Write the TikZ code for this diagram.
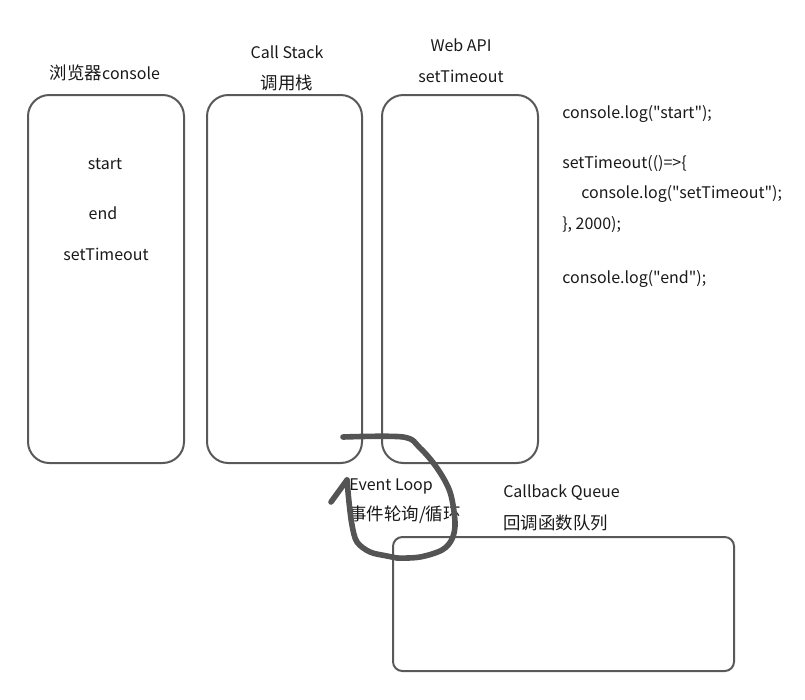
\documentclass[tikz,border=0pt]{standalone}
\usepackage{fontspec}
\setmainfont{Noto Sans CJK SC}[Ligatures=TeXOff]
\newfontfamily\cjk{Noto Sans CJK SC}[Scale=1.09]
\usepackage{tikz}
\usetikzlibrary{positioning}

\tikzset{
  panel/.style={draw=black!65, line width=1.5pt, rounded corners=16pt},
  queue/.style={draw=black!65, line width=1.5pt, rounded corners=7pt},
  lbl/.style={inner sep=0pt, font=\fontsize{12}{14}\selectfont, text=black!90},
  code/.style={lbl, anchor=west},
  loopline/.style={draw=black!67, line width=4.2pt, line cap=round, line join=round}
}

\begin{document}
\begin{tikzpicture}[x=0.75pt,y=-0.75pt]
		\useasboundingbox (0,0) rectangle (805,699);

		% the three columns
		\draw[panel] (28,95) rectangle (184,463);
		\draw[panel] (207,95) rectangle (362,463);
		\draw[panel] (382,95) rectangle (538,463);
		\draw[queue] (393,537) rectangle (734,671);

		% titles
		\node[lbl] (console) at (105,73) {{\cjk 浏览器}console};
		\node[lbl] (stack) at (287,52) {Call Stack};
		\node[lbl] (stackcn) at (287,83) {\cjk 调用栈};
		\node[lbl] (webapi) at (461,45) {Web API};
		\node[lbl] (timer) at (461,76) {setTimeout};

		% console output
		\node[lbl] (out1) at (105,164) {start};
		\node[lbl] (out2) at (103,213) {end};
		\node[lbl] (out3) at (106,254) {setTimeout};

		% the code
		\node[code] (c1) at (562,114) {console.log("start");};
		\node[code] (c2) at (562,164) {setTimeout(()=>\{};
		\node[code] (c3) at (581,194) {console.log("setTimeout");};
		\node[code] (c4) at (562,225) {\}, 2000);};
		\node[code] (c5) at (562,279) {console.log("end");};

		% event loop and queue
		\node[code] (loop) at (349,486) {Event Loop};
		\node[code] (loopcn) at (349,515) {\cjk 事件轮询/循环};
		\node[code] (cbq) at (503,493) {Callback Queue};
		\node[code] (cbqcn) at (503,523) {\cjk 回调函数队列};

		\coordinate (tip) at (347,480);
		\coordinate (barb) at (331,502);
		\draw[loopline] plot[smooth, tension=0.55] coordinates {
				(343,437) (403,437) (420,448) (437,468) (450,492) (455,522)
				(452,539) (442,550) (420,557) (397,558) (387,556) (370,552)
				(357,542) (352,525) (349,502) (tip)};
		\draw[loopline] (tip) -- (barb);

		\end{tikzpicture}
\end{document}
